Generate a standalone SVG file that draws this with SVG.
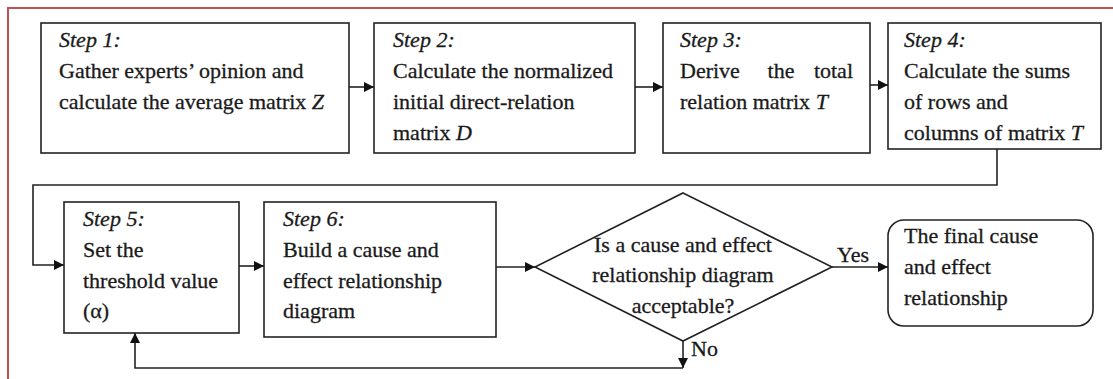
<svg xmlns="http://www.w3.org/2000/svg" width="1113" height="379" viewBox="0 0 1113 379">
<defs>
<marker id="ah" viewBox="0 0 10 10" refX="10" refY="5" markerWidth="10" markerHeight="10" markerUnits="userSpaceOnUse" orient="auto">
<path d="M0,0 L10,5 L0,10 z" fill="#111"/>
</marker>
<style>
.box{fill:#fff;stroke:#222;stroke-width:1.6}
.t{font-family:'Liberation Serif','DejaVu Serif',serif;font-size:22px;fill:#1a1a1a;stroke:#1a1a1a;stroke-width:0.3}
.s{font-style:italic}
.c{text-anchor:middle}
.ln{fill:none;stroke:#222;stroke-width:1.6}
</style>
</defs>
<rect width="1113" height="379" fill="#fff"/>
<path d="M8,379 V8 H1113" fill="none" stroke="#c0504d" stroke-width="2"/>
<g id="connectors">
<line class="ln" x1="349" y1="87" x2="374" y2="87" marker-end="url(#ah)"/>
<line class="ln" x1="635" y1="87" x2="663" y2="87" marker-end="url(#ah)"/>
<line class="ln" x1="870" y1="85" x2="888" y2="85" marker-end="url(#ah)"/>
<polyline class="ln" points="997,149 997,185 33,185 33,265 64,265" marker-end="url(#ah)"/>
<line class="ln" x1="239" y1="266" x2="264" y2="266" marker-end="url(#ah)"/>
<line class="ln" x1="496" y1="267" x2="535" y2="267" marker-end="url(#ah)"/>
<line class="ln" x1="832" y1="267" x2="888" y2="267" marker-end="url(#ah)"/>
<text class="t" x="837" y="262">Yes</text>
<line class="ln" x1="683" y1="341" x2="683" y2="368" marker-end="url(#ah)"/>
<text class="t" x="691" y="356">No</text>
<polyline class="ln" points="683,368 135,368 135,333" marker-end="url(#ah)"/>
</g>
<g id="step1">
<rect class="box" x="41" y="23" width="308" height="130"/>
<text class="t s" x="59" y="47">Step 1:</text>
<text class="t" x="59" y="78">Gather experts’ opinion and</text>
<text class="t" x="59" y="109">calculate the average matrix <tspan class="s">Z</tspan></text>
</g>
<g id="step2">
<rect class="box" x="374" y="23" width="261" height="130"/>
<text class="t s" x="393" y="47">Step 2:</text>
<text class="t" x="393" y="78">Calculate the normalized</text>
<text class="t" x="393" y="109">initial direct-relation</text>
<text class="t" x="393" y="140">matrix <tspan class="s">D</tspan></text>
</g>
<g id="step3">
<rect class="box" x="663" y="23" width="207" height="130"/>
<text class="t s" x="680" y="47">Step 3:</text>
<text class="t" x="680" y="78">Derive</text>
<text class="t" x="781" y="78" text-anchor="middle">the</text>
<text class="t" x="853" y="78" text-anchor="end">total</text>
<text class="t" x="680" y="109">relation matrix <tspan class="s">T</tspan></text>
</g>
<g id="step4">
<rect class="box" x="888" y="23" width="213" height="126"/>
<text class="t s" x="904" y="47">Step 4:</text>
<text class="t" x="904" y="78">Calculate the sums</text>
<text class="t" x="904" y="109">of rows and</text>
<text class="t" x="904" y="140">columns of matrix <tspan class="s">T</tspan></text>
</g>
<g id="step5">
<rect class="box" x="64" y="202" width="175" height="131"/>
<text class="t s" x="83" y="226">Step 5:</text>
<text class="t" x="83" y="257">Set the</text>
<text class="t" x="83" y="288">threshold value</text>
<text class="t" x="83" y="318">(α)</text>
</g>
<g id="step6">
<rect class="box" x="264" y="202" width="232" height="135"/>
<text class="t s" x="283" y="226">Step 6:</text>
<text class="t" x="283" y="257">Build a cause and</text>
<text class="t" x="283" y="288">effect relationship</text>
<text class="t" x="283" y="318">diagram</text>
</g>
<g id="decision">
<polygon class="box" points="683,193 832,267 683,341 535,267"/>
<text class="t c" x="683" y="252">Is a cause and effect</text>
<text class="t c" x="683" y="282">relationship diagram</text>
<text class="t c" x="683" y="313">acceptable?</text>
</g>
<g id="final">
<rect class="box" x="888" y="220" width="205" height="106" rx="16"/>
<text class="t" x="904" y="243">The final cause</text>
<text class="t" x="904" y="274">and effect</text>
<text class="t" x="904" y="305">relationship</text>
</g>
</svg>
